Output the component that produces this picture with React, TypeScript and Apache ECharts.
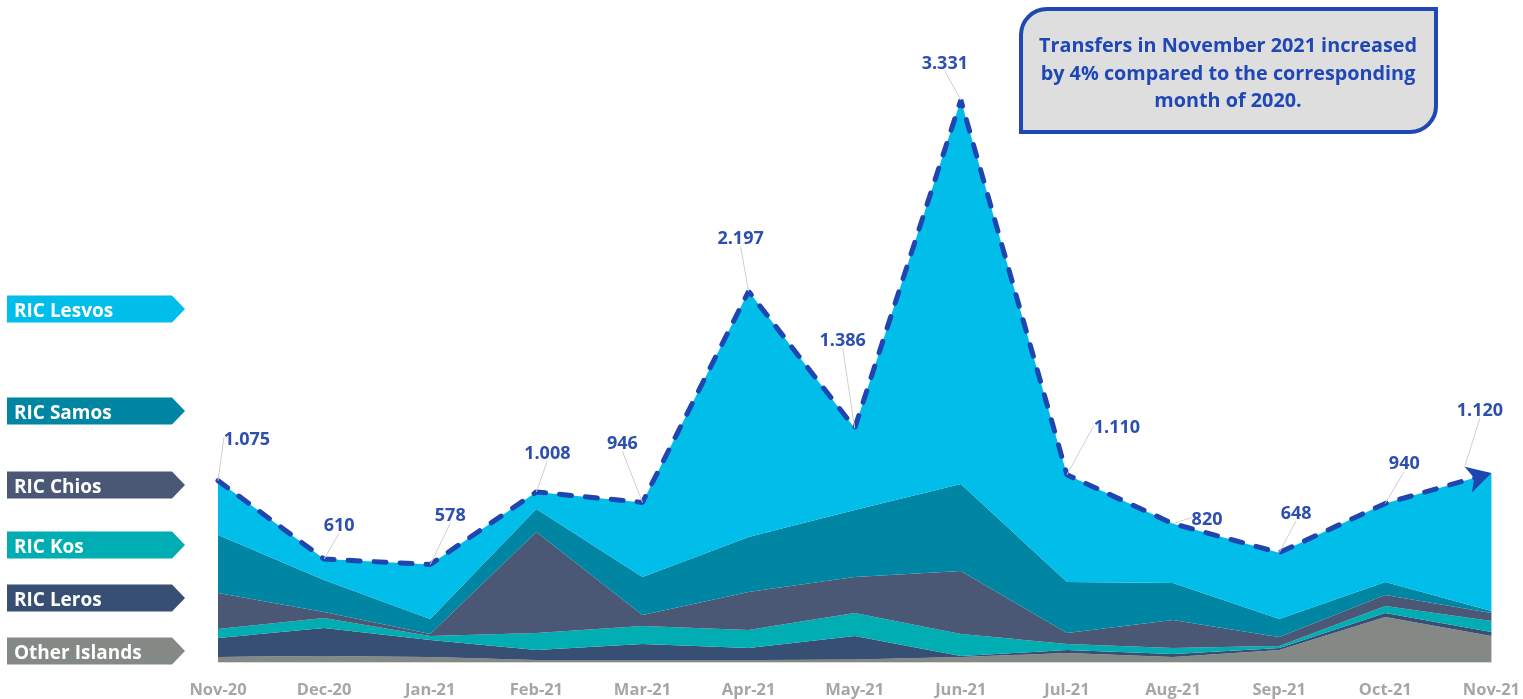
import React, { useEffect, useRef } from "react";
import * as echarts from "echarts";

const months = ["Nov-20", "Dec-20", "Jan-21", "Feb-21", "Mar-21", "Apr-21", "May-21", "Jun-21", "Jul-21", "Aug-21", "Sep-21", "Oct-21", "Nov-21"];

const otherIslands = [30, 36, 30, 12, 12, 12, 15, 30, 53, 30, 71, 267, 154];
const ricLeros = [112, 166, 100, 59, 95, 71, 139, 5, 18, 17, 12, 23, 24];
const ricKos = [54, 59, 24, 101, 106, 107, 136, 131, 36, 36, 12, 42, 65];
const ricChios = [213, 35, 12, 599, 66, 225, 214, 373, 65, 166, 53, 65, 47];
const ricSamos = [344, 190, 89, 136, 225, 326, 397, 516, 302, 219, 107, 77, 12];
const ricLesvos = [322, 124, 323, 101, 442, 1456, 485, 2276, 636, 352, 393, 466, 818];

const totals = [1075, 610, 578, 1008, 946, 2197, 1386, 3331, 1110, 820, 648, 940, 1120];

const seriesNames = ["Other Islands", "RIC Leros", "RIC Kos", "RIC Chios", "RIC Samos", "RIC Lesvos"];
const seriesData = [otherIslands, ricLeros, ricKos, ricChios, ricSamos, ricLesvos];
const seriesColors = ["#858985", "#364f73", "#00adb3", "#4a5875", "#0085a3", "#00bde9"];

// legend tag vertical centres (style/layout), same order as seriesNames
const tagCenters = [651, 598, 545, 485, 411, 309];

// label displacement (px) from each total point (style)
const labelShift: number[][] = [
  [29, -45], [15, -37], [20, -52], [11, -42], [-20, -62], [-8, -56], [-12, -91],
  [-16, -40], [50, -51], [34, -8], [17, -43], [19, -43], [0, -53],
];

const noteLines = [
  "Transfers in November 2021 increased",
  "by 4% compared to the corresponding",
  "month of 2020.",
];

const FONT = "'Open Sans', Lato, sans-serif";

function fmt(v: number): string {
  if (v >= 1000) {
    return Math.floor(v / 1000) + "." + String(v % 1000).padStart(3, "0");
  }
  return String(v);
}

export default function App() {
  const ref = useRef<HTMLDivElement>(null);

  useEffect(() => {
    const chart = echarts.init(ref.current!, null, { renderer: "svg" });

    const areaSeries = seriesNames.map((name, i) => ({
      name,
      type: "line",
      stack: "total",
      data: seriesData[i],
      symbol: "none",
      lineStyle: { width: 0 },
      areaStyle: { color: seriesColors[i], opacity: 1 },
      itemStyle: { color: seriesColors[i] },
      emphasis: { disabled: true },
      z: 2,
    }));

    const lineData = totals.map((v, i) =>
      i === totals.length - 1
        ? { value: v, symbol: "arrow", symbolSize: [20, 24], symbolRotate: -74 }
        : { value: v }
    );

    const tags: any[] = [];
    seriesNames.forEach((name, i) => {
      const cy = tagCenters[i];
      const h = 27;
      tags.push({
        type: "polygon",
        shape: {
          points: [
            [7, cy - h / 2],
            [172, cy - h / 2],
            [185, cy],
            [172, cy + h / 2],
            [7, cy + h / 2],
          ],
        },
        style: { fill: seriesColors[i] },
        z: 10,
      });
      tags.push({
        type: "text",
        x: 14,
        y: cy + 1,
        style: {
          text: name,
          fill: "#ffffff",
          font: `bold 19px ${FONT}`,
          verticalAlign: "middle",
          align: "left",
        },
        z: 11,
      });
    });

    const option: any = {
      animation: false,
      grid: { left: 218, right: 30, top: 71.5, bottom: 37, containLabel: false },
      xAxis: {
        type: "category",
        data: months,
        boundaryGap: false,
        axisLine: { show: true, lineStyle: { color: "#d9d9d9", width: 1 } },
        axisTick: { show: false },
        splitLine: { show: false },
        axisLabel: {
          color: "#a6a6a6",
          fontWeight: "bold",
          fontSize: 16.5,
          fontFamily: FONT,
          margin: 18,
          interval: 0,
        },
        z: 3,
      },
      yAxis: {
        type: "value",
        min: 0,
        max: 3500,
        show: false,
        splitLine: { show: false },
      },
      series: [
        ...areaSeries,
        {
          name: "Total",
          type: "line",
          data: lineData,
          symbol: "circle",
          symbolSize: 0.1,
          showSymbol: true,
          itemStyle: { color: "#1f45b0" },
          lineStyle: { color: "#1f45b0", width: 5, type: [12, 14], cap: "round" },
          emphasis: { disabled: true },
          z: 5,
          label: {
            show: true,
            position: "top",
            distance: 0,
            color: "#2d4fb0",
            fontWeight: "bold",
            fontSize: 18,
            fontFamily: FONT,
            formatter: (p: any) => fmt(p.value),
          },
          labelLine: { show: true, lineStyle: { color: "#cfcfcf", width: 1 } },
          labelLayout: (p: any) => ({
            dx: labelShift[p.dataIndex][0],
            dy: labelShift[p.dataIndex][1] + 11,
          }),
        },
      ],
      graphic: [
        ...tags,
        {
          type: "rect",
          shape: { x: 1021, y: 9, width: 415, height: 123, r: [26, 0, 26, 0] },
          style: { fill: "#dedede", stroke: "#1f47b5", lineWidth: 4 },
          z: 10,
        },
        {
          type: "text",
          x: 1228,
          y: 72,
          style: {
            text: noteLines.join("\n"),
            fill: "#1f47b5",
            font: `bold 19.8px ${FONT}`,
            align: "center",
            verticalAlign: "middle",
            lineHeight: 27.5,
          },
          z: 11,
        },
      ],
    };

    chart.setOption(option);
    return () => chart.dispose();
  }, []);

  return (
    <div
      ref={ref}
      style={{ position: "fixed", left: 0, top: 0, width: 1523, height: 699 }}
    />
  );
}
